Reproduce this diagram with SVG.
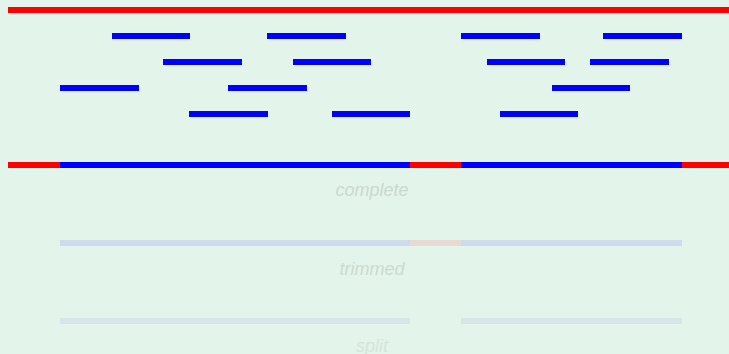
<svg xmlns="http://www.w3.org/2000/svg" width="729" height="354" viewBox="0 0 729 354">
<style>
.bg{fill:#e3f4ea}
.ref{stroke:#ff0000;stroke-width:6;fill:none}
.read{stroke:#0000ff;stroke-width:6;fill:none}
.lbl{font-family:"Liberation Sans",Arial,sans-serif;font-style:italic;font-size:18px;text-anchor:middle}
</style>
<rect class="bg" x="0" y="0" width="729" height="354"/>
<g id="reference">
<line class="ref" x1="8" y1="10" x2="729" y2="10"/>
</g>
<g id="reads">
<line class="read" x1="112" y1="36" x2="190" y2="36"/>
<line class="read" x1="267" y1="36" x2="346" y2="36"/>
<line class="read" x1="461" y1="36" x2="540" y2="36"/>
<line class="read" x1="603" y1="36" x2="682" y2="36"/>
<line class="read" x1="163" y1="62" x2="242" y2="62"/>
<line class="read" x1="293" y1="62" x2="371" y2="62"/>
<line class="read" x1="487" y1="62" x2="565" y2="62"/>
<line class="read" x1="590" y1="62" x2="669" y2="62"/>
<line class="read" x1="60" y1="88" x2="139" y2="88"/>
<line class="read" x1="228" y1="88" x2="307" y2="88"/>
<line class="read" x1="552" y1="88" x2="630" y2="88"/>
<line class="read" x1="189" y1="114" x2="268" y2="114"/>
<line class="read" x1="332" y1="114" x2="410" y2="114"/>
<line class="read" x1="500" y1="114" x2="578" y2="114"/>
</g>
<g id="complete">
<line class="ref" x1="8" y1="165" x2="60" y2="165"/>
<line class="read" x1="60" y1="165" x2="410" y2="165"/>
<line class="ref" x1="410" y1="165" x2="461" y2="165"/>
<line class="read" x1="461" y1="165" x2="682" y2="165"/>
<line class="ref" x1="682" y1="165" x2="729" y2="165"/>
<text class="lbl" x="372" y="196" fill="#c9d9ce">complete</text>
</g>
<g id="trimmed">
<line stroke="#cddbec" stroke-width="6" x1="60" y1="243" x2="410" y2="243"/>
<line stroke="#e6dad2" stroke-width="6" x1="410" y1="243" x2="461" y2="243"/>
<line stroke="#cddbec" stroke-width="6" x1="461" y1="243" x2="682" y2="243"/>
<text class="lbl" x="372" y="275" fill="#cbdbd0">trimmed</text>
</g>
<g id="split">
<line stroke="#d7e5e8" stroke-width="6" x1="60" y1="321" x2="410" y2="321"/>
<line stroke="#d7e5e8" stroke-width="6" x1="461" y1="321" x2="682" y2="321"/>
<text class="lbl" x="372" y="352" fill="#d3e5d9">split</text>
</g>
</svg>
